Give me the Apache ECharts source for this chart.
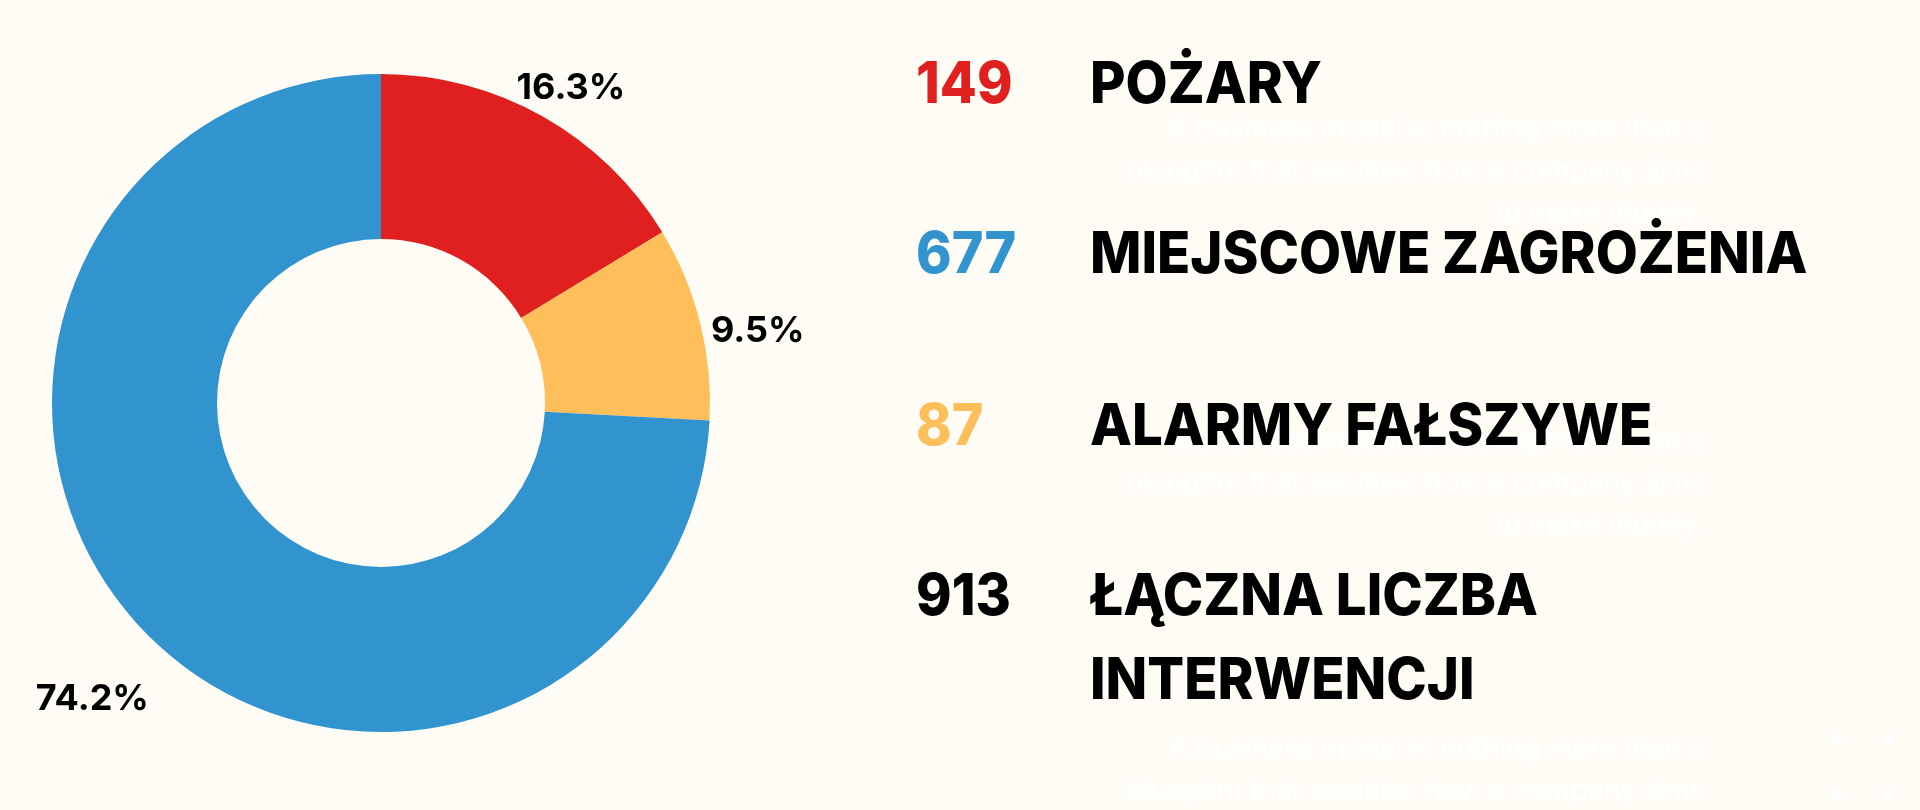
<!DOCTYPE html>
<html><head><meta charset="utf-8">
<script src="https://cdn.jsdelivr.net/npm/echarts@6/dist/echarts.min.js"></script>
<style>html,body{margin:0;padding:0;background:#fffcf6}#c{width:1920px;height:810px}</style>
</head><body><div id="c"></div>
<script>
// ---- data ----
const categories = ['POŻARY', 'MIEJSCOWE ZAGROŻENIA', 'ALARMY FAŁSZYWE'];
const values = [149, 677, 87];
const colors = ['#e01f1f', '#3294cf', '#febe5a'];
const pieOrder = [0, 2, 1];            // clockwise order of slices from 12 o'clock
const totalLabel = 'ŁĄCZNA LICZBA\nINTERWENCJI';
const fillerText = 'A business model is nothing more than a\nblueprint that explains how a company aims\nto make money.';

const total = values.reduce((a, b) => a + b, 0);
const pieData = pieOrder.map(i => ({ name: categories[i], value: values[i], itemStyle: { color: colors[i] } }));
const labelOffsets = [[7, 10], [15, 19], [-18, 40]];
const labelData = pieOrder.map((i, k) => ({
  name: categories[i], value: values[i],
  label: { offset: labelOffsets[k] }
}));

// ---- layout (styling only) ----
const numX = 916, textX = 1090;
const rowY = [86, 256, 428];
const totalY = 598;
const bigFont = '800 58px Inter';
const numScale = 0.93, textScale = 0.94;

const graphics = [];
// faint background filler text blocks
[172, 484, 792].forEach(y => graphics.push({
  type: 'text', silent: true, z: 0,
  style: { text: fillerText, x: 1705, y: y, align: 'right', verticalAlign: 'middle',
           font: '400 28px Inter', lineHeight: 42, fill: '#ffffff' }
}));
// decorative dots
[[1837, 739], [1889, 739], [1837, 794], [1889, 794]].forEach(p => graphics.push({
  type: 'circle', silent: true, shape: { cx: p[0], cy: p[1], r: 5 }, style: { fill: '#ffffff' }
}));
function bigText(txt, x, y, color, scale, extra) {
  return { type: 'text', z: 10, x: x, y: y, scaleX: scale,
    style: Object.assign({ text: txt, x: 0, y: 0, verticalAlign: 'middle', font: bigFont, fill: color }, extra || {}) };
}
categories.forEach((c, i) => {
  graphics.push(bigText(String(values[i]), numX, rowY[i], colors[i], numScale));
  graphics.push(bigText(c, textX, rowY[i], '#000000', textScale));
});
graphics.push(bigText(String(total), numX, totalY, '#000000', numScale));
graphics.push(bigText(totalLabel, textX, totalY - 42, '#000000', textScale, { verticalAlign: 'top', lineHeight: 84 }));

const chart = echarts.init(document.getElementById('c'), null, { renderer: 'canvas' });
chart.setOption({
  backgroundColor: '#fffcf6',
  animation: false,
  graphic: graphics,
  series: [
    {
      type: 'pie', center: [381, 403], radius: [164, 329], startAngle: 90, clockwise: true,
      data: pieData, label: { show: false }, labelLine: { show: false }, silent: true
    },
    {
      type: 'pie', center: [381, 403], radius: [345, 395], startAngle: 90, clockwise: true,
      percentPrecision: 1, silent: true,
      itemStyle: { color: 'rgba(0,0,0,0)' },
      data: labelData,
      label: { show: true, position: 'inside', rotate: 0, formatter: '{d}%',
               fontFamily: 'Inter', fontWeight: 700, fontSize: 36,
               color: '#000000', overflow: 'none' },
      labelLine: { show: false }
    }
  ]
});
</script></body></html>
